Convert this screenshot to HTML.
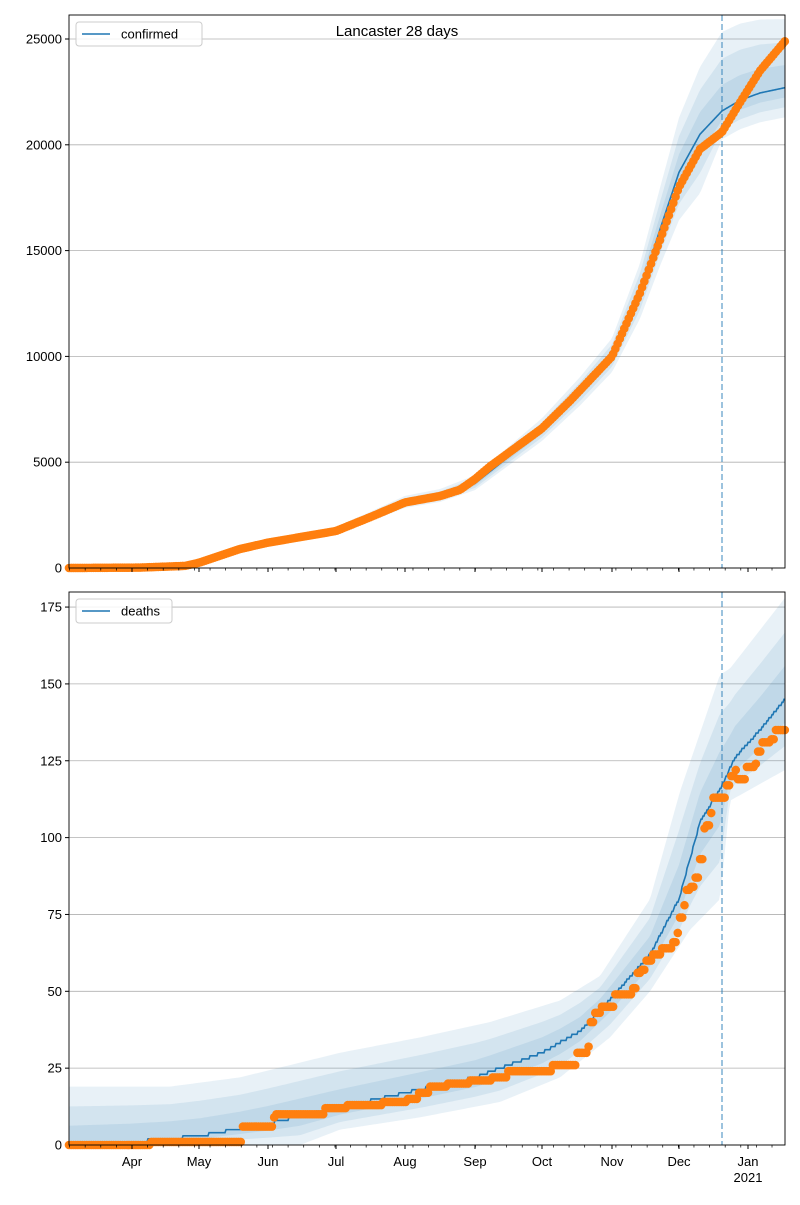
<!DOCTYPE html>
<html><head><meta charset="utf-8"><style>
body{margin:0;background:#fff;}
svg text{font-family:"Liberation Sans","DejaVu Sans",sans-serif;font-size:13px;fill:#000}
</style></head><body>
<svg id="s" width="800" height="1200" xmlns="http://www.w3.org/2000/svg"></svg>
<script>
const S=document.getElementById('s');let h='';
function interp(pts,x){if(x<=pts[0][0])return pts[0][1];for(let i=1;i<pts.length;i++){if(x<=pts[i][0]){const a=pts[i-1],b=pts[i];return a[1]+(b[1]-a[1])*(x-a[0])/(b[0]-a[0]);}}return pts[pts.length-1][1];}
const X0=69,X1=785;
const months=[[132,'Apr'],[199,'May'],[268,'Jun'],[336,'Jul'],[405,'Aug'],[475,'Sep'],[542,'Oct'],[612,'Nov'],[679,'Dec'],[748,'Jan']];
function panel(top,bot,vmax,ticks,yval,line,up,lo,dots,label,stepLine){
  const Y=v=>bot-(v/vmax)*(bot-top);
  ticks.forEach(t=>{const y=Y(t);h+=`<line x1="${X0}" x2="${X1}" y1="${y}" y2="${y}" stroke="#b0b0b0" stroke-width="0.8"/>`;h+=`<line x1="${X0-4}" x2="${X0}" y1="${y}" y2="${y}" stroke="#000"/>`;h+=`<text x="${X0-7}" y="${y+4.5}" text-anchor="end">${t}</text>`;});
  for(const fr of [1,0.66,0.33]){let p='',q='';for(let x=X0;x<=X1;x+=2){const l=interp(line,x),u=interp(up,x),d=interp(lo,x);p+=`${x},${Y(l+(u-l)*fr)} `;q=`${x},${Y(l-(l-d)*fr)} `+q;}h+=`<polygon points="${p}${q}" fill="#1f77b4" fill-opacity="0.1"/>`;}
  let p='';for(let x=X0;x<=X1;x+=1){let v=interp(line,x);if(stepLine)v=Math.round(v);p+=`${x},${Y(v)} `;}
  h+=`<polyline points="${p}" fill="none" stroke="#1f77b4" stroke-width="1.6"/>`;
  h+=`<line x1="722" x2="722" y1="${top}" y2="${bot}" stroke="#1f77b4" stroke-opacity="0.55" stroke-width="1.6" stroke-dasharray="6,3"/>`;
  for(let x=X0;x<=X1;x+=2.23){h+=`<circle cx="${x}" cy="${Y(dots(x))}" r="4.3" fill="#ff7f0e"/>`;}
  h+=`<rect x="${X0}" y="${top}" width="${X1-X0}" height="${bot-top}" fill="none" stroke="#000" stroke-width="0.9"/>`;
  for(let x=132-7*2.23*9;x<=X1;x+=7*2.23){if(x>=X0)h+=`<line x1="${x}" x2="${x}" y1="${bot}" y2="${bot+2.5}" stroke="#000" stroke-width="0.7"/>`;}
  months.forEach(m=>{h+=`<line x1="${m[0]}" x2="${m[0]}" y1="${bot}" y2="${bot+4}" stroke="#000"/>`;});
  const w=label=='confirmed'?126:96;
  h+=`<rect x="76" y="${top+7}" width="${w}" height="24" rx="3" fill="#fff" fill-opacity="0.85" stroke="#ccc"/>`;
  h+=`<line x1="82" x2="110" y1="${top+19}" y2="${top+19}" stroke="#1f77b4" stroke-width="1.6"/>`;
  h+=`<text x="121" y="${top+23.5}">${label}</text>`;
}
const cd=[[69,0],[140,20],[185,100],[199,250],[240,900],[268,1200],[336,1750],[370,2400],[405,3100],[440,3400],[460,3700],[475,4200],[490,4800],[542,6600],[570,7900],[612,10000],[640,13000],[660,15500],[679,18000],[700,19800],[722,20600],[740,22000],[760,23500],[785,24900]];
const cl=[[69,0],[140,20],[185,100],[199,250],[240,900],[268,1200],[336,1750],[370,2400],[405,3100],[440,3400],[475,4000],[542,6500],[580,8300],[612,10000],[640,13000],[660,16000],[679,18700],[700,20500],[722,21600],[740,22100],[760,22450],[785,22700]];
const cu=cl.map(([x,v])=>{let f=x<612?0.08:x<722?0.08+0.09*(x-612)/110:0.17-0.03*(x-722)/63;return [x,v*(1+f)+(x<200?30:60)];});
const clo=cl.map(([x,v])=>{let f=x<612?0.07:x<722?0.07+0.08*(x-612)/110:0.06;return [x,Math.max(0,v*(1-f)-40)];});
panel(15,568,26134,[0,5000,10000,15000,20000,25000],null,cl,cu,clo,x=>interp(cd,x),'confirmed',false);
const ds=[[69,0],[150,0],[151,1],[240,1],[241,6],[270,6],[272,9],[275,10],[322,10],[324,12],[345,12],[347,13],[380,13],[382,14],[405,14],[407,15],[415,15],[417,17],[428,17],[430,19],[445,19],[447,20],[468,20],[470,21],[490,21],[492,22],[505,22],[507,24],[550,24],[552,26],[575,26],[577,30],[585,30],[587,32],[589,40],[595,43],[600,45],[612,45],[615,49],[630,49],[632,51],[637,56],[642,57],[646,60],[652,62],[660,64],[670,64],[673,66],[677,69],[680,74],[683,78],[686,83],[690,84],[694,87],[698,93],[703,103],[706,104],[710,108],[713,113],[722,113],[725,117],[730,120],[735,122],[738,119],[745,123],[755,124],[758,128],[762,131],[770,132],[775,135],[785,135]];
const dl=[[69,0],[130,1],[200,3],[268,7],[336,12],[405,17],[475,22],[542,30],[580,37],[612,48],[650,62],[679,80],[700,105],[722,117],[735,126],[760,135],[785,145]];
const du=[[69,19],[170,19],[240,22],[340,30],[420,35],[490,40],[560,47],[600,55],[650,80],[680,115],[720,153],[730,155],[785,178]];
const dlo=[[69,0],[300,0],[340,5],[420,9],[500,14],[560,22],[610,35],[650,50],[690,70],[720,80],[730,112],[785,122]];
panel(592,1145,179.9,[0,25,50,75,100,125,150,175],null,dl,du,dlo,x=>{let v=0;for(const p of ds){if(p[0]<=x)v=p[1];}return v;},'deaths',true);
months.forEach(m=>{h+=`<text x="${m[0]}" y="1166" text-anchor="middle">${m[1]}</text>`;});
h+=`<text x="748" y="1182" text-anchor="middle">2021</text>`;
h+=`<text x="397" y="36" text-anchor="middle" style="font-size:15px">Lancaster 28 days</text>`;
S.innerHTML=h;
</script>
</body></html>
